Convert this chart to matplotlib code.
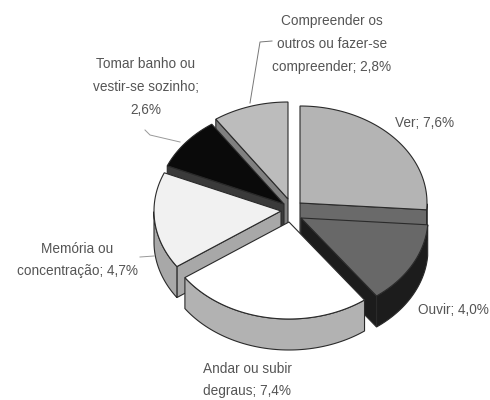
import numpy as np
import matplotlib
matplotlib.use('Agg')
import matplotlib.pyplot as plt

plt.rcParams['font.family'] = ['Liberation Sans', 'DejaVu Sans']

# clockwise from 12 o'clock
labels = ['Ver; 7,6%', 'Ouvir; 4,0%', 'Andar ou subir\ndegraus; 7,4%',
          'Memória ou\nconcentração; 4,7%', 'Tomar banho ou\nvestir-se sozinho;\n2,6%',
          'Compreender os\noutros ou fazer-se\ncompreender; 2,8%']
values = [7.6, 4.0, 7.4, 4.7, 2.6, 2.8]

top_colors = ['#b4b4b4', '#686868', '#ffffff', '#f1f1f1', '#0a0a0a', '#bcbcbc']
side_colors = ['#6a6a6a', '#1c1c1c', '#b2b2b2', '#a8a8a8', '#3a3a3a', '#808080']

# apex of each exploded slice, in pixels
apex_x = [300, 301, 289, 281, 284, 288]
apex_y = [203, 218, 222, 211, 204, 199]
label_x = [425, 453, 247, 77, 146, 332]
label_y = [123, 310, 380, 260, 87, 44]

rx = 127
ry = 97
depth = 31
draw_order = [5, 4, 0, 3, 1, 2]

fig = plt.figure(figsize=(4.9, 4.0), dpi=100)
ax = fig.add_axes([0, 0, 1, 1])
ax.set_xlim(0, 490)
ax.set_ylim(400, 0)
ax.axis('off')

total = sum(values)
starts = []
ends = []
a = 90.0
for v in values:
    starts.append(a)
    a = a - v / total * 360.0
    ends.append(a)

edge = '#2a2a2a'
for i in draw_order:
    cx = apex_x[i]
    cy = apex_y[i]
    t = np.radians(np.linspace(starts[i], ends[i], 80))
    px = cx + rx * np.cos(t)
    py = cy - ry * np.sin(t)

    # cut walls, only the ones turned to the viewer
    for k, normal in [(0, starts[i] + 90), (-1, ends[i] - 90)]:
        if np.sin(np.radians(normal)) < -0.01:
            ax.fill([cx, px[k], px[k], cx], [cy, py[k], py[k] + depth, cy + depth],
                    facecolor=side_colors[i], edgecolor=edge, linewidth=0.8, zorder=1)
    # outer rim, only the part that faces the viewer
    front = np.sin(t) <= 0
    if front.any():
        fx = px[front]
        fy = py[front]
        ax.fill(np.r_[fx, fx[::-1]], np.r_[fy, fy[::-1] + depth],
                facecolor=side_colors[i], edgecolor=edge, linewidth=0.8, zorder=1)
    ax.fill(np.r_[cx, px], np.r_[cy, py], facecolor=top_colors[i],
            edgecolor=edge, linewidth=0.8, zorder=1)

# leader lines
ax.plot([272, 260, 250], [41, 42, 103], color='#777777', lw=0.7, zorder=0)
ax.plot([145, 150, 180], [130, 135, 142], color='#999999', lw=0.7, zorder=0)
ax.plot([140, 154], [257, 256], color='#999999', lw=0.7, zorder=0)

for name, x, y in zip(labels, label_x, label_y):
    ax.text(x, y, name, ha='center', va='center', fontsize=9.8, color='#555555',
            linespacing=1.8)

fig.savefig('out.png', dpi=100)
